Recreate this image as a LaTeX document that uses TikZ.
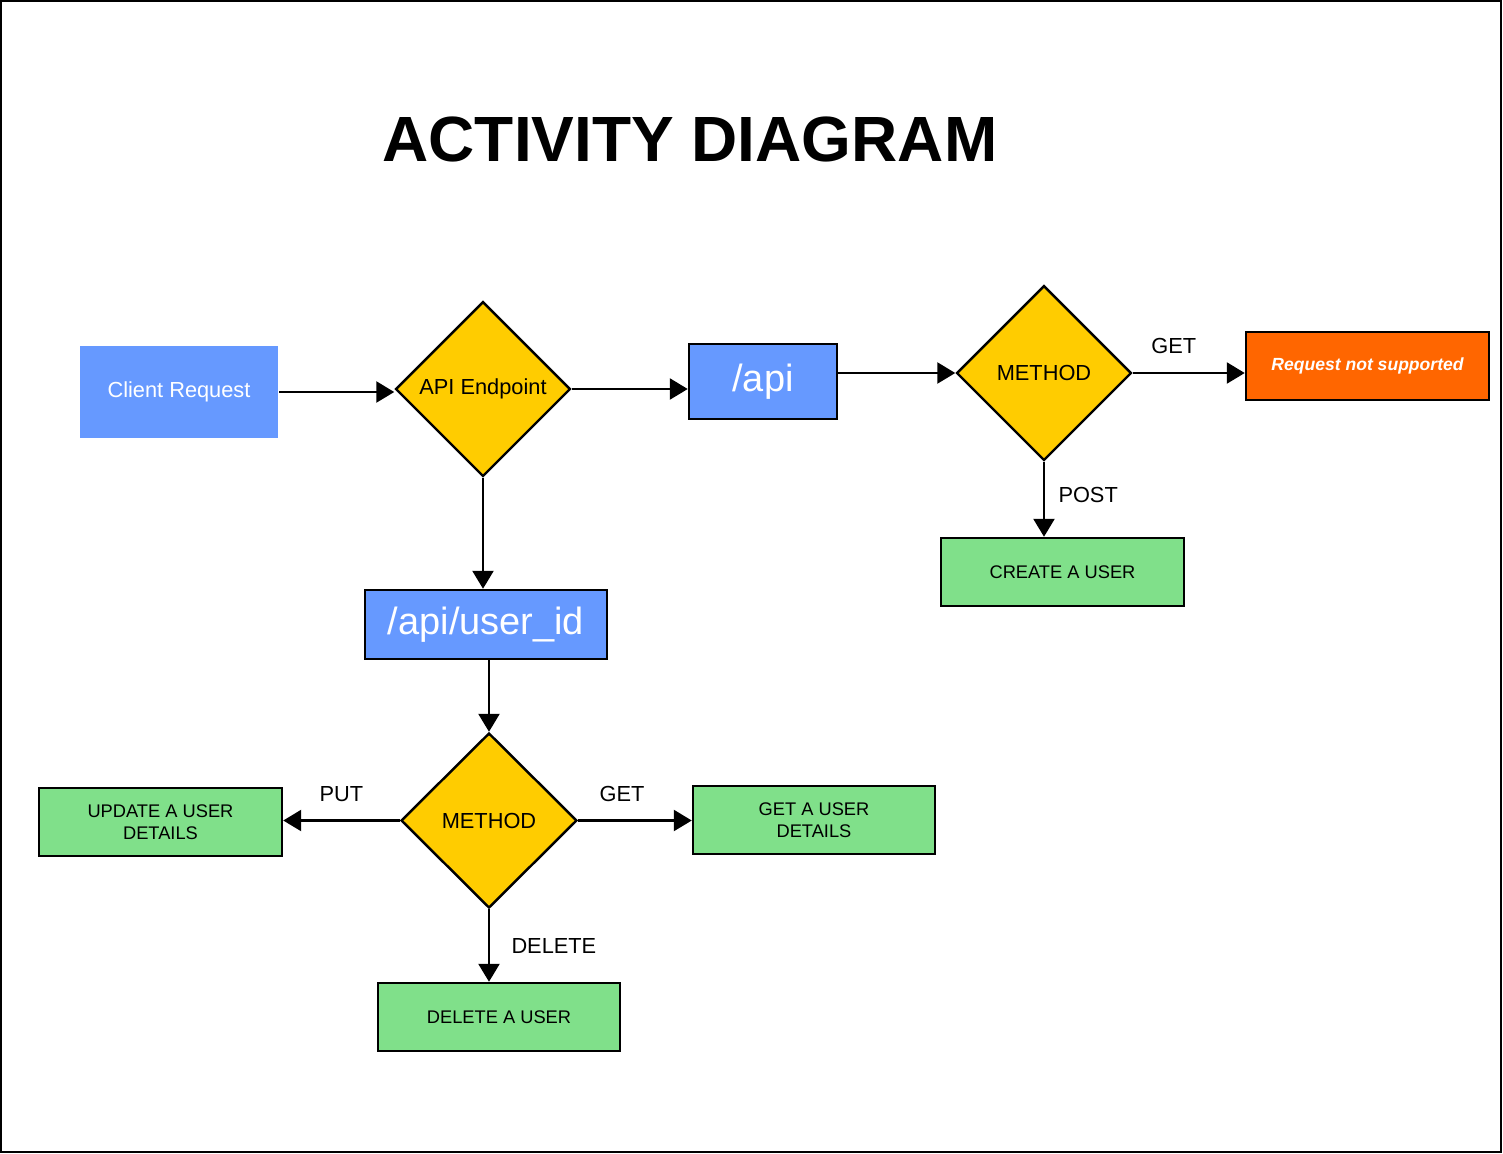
\documentclass[tikz,border=0pt]{standalone}
\usepackage{fontspec}
\setmainfont{Liberation Sans}
\usetikzlibrary{positioning,arrows.meta,calc,shapes.geometric}
\definecolor{figblue}{RGB}{102,153,255}
\definecolor{figyellow}{RGB}{255,204,0}
\definecolor{figorange}{RGB}{255,102,0}
\definecolor{figgreen}{RGB}{128,224,138}
\tikzset{
  fig/.style={font=\fontsize{6.2}{7.4}\selectfont},
  box/.style={draw,line width=0.7pt,minimum height=6.8mm,minimum width=24.3mm,align=center,
              inner sep=1pt,font=\fontsize{5.2}{6.3}\selectfont},
  greenbox/.style={box,fill=figgreen},
  routebox/.style={box,fill=figblue,text=white,font=\fontsize{10.8}{12}\selectfont},
  decision/.style={diamond,draw,line width=0.7pt,fill=figyellow,minimum width=17.5mm,
                   minimum height=17.5mm,inner sep=0pt,font=\fontsize{6.2}{7.4}\selectfont},
  ln/.style={-{Triangle[length=1.8mm,width=2.1mm]},line width=0.7pt},
  lbl/.style={font=\fontsize{6.2}{7.4}\selectfont,inner sep=1.5pt},
}

\begin{document}
\begin{tikzpicture}[fig,
  title/.style={font=\fontsize{18.2}{20}\selectfont\bfseries},
  startbox/.style={box,draw=none,fill=figblue,text=white,minimum width=19.8mm,
                   minimum height=9.2mm,font=\fontsize{6.2}{7.4}\selectfont},
  errbox/.style={box,fill=figorange,text=white,font=\fontsize{5}{6}\selectfont\bfseries\itshape}]

\useasboundingbox (0,0) rectangle (15.03,-11.54);
\draw[line width=0.6pt] (0.01,-0.01) rectangle (15.01,-11.52);
\node[title] (ttl) at (6.9,-1.39) {ACTIVITY DIAGRAM};

% =======================  TOP: request and /api route  =====================
\node[startbox] (client) at (1.79,-3.92) {Client Request};
\node[decision] (endpt) at (4.83,-3.89) {API Endpoint};
\node[routebox,minimum width=14.8mm,minimum height=7.5mm] (apiroute) at (7.63,-3.815) {/api};
\node[decision] (meth1) at (10.44,-3.73) {METHOD};
\node[errbox] (nosup) at (13.675,-3.66) {Request not supported};
\node[greenbox] (create) at (10.625,-5.72) {CREATE A USER};

\draw[ln] (client.east) -- (client.east -| endpt.west);
\draw[ln] (endpt.east) -- (endpt.east -| apiroute.west);
\draw[ln] (apiroute.east |- meth1.west) -- (meth1.west);
\draw[ln] (meth1.east) -- (meth1.east -| nosup.west)
      node[lbl,midway,above=3.5pt,xshift=-1.5mm] {GET};
\draw[ln] (meth1.south) -- (meth1.south |- create.north)
      node[lbl,midway,right=0.8mm,yshift=0.4mm] {POST};

% =======================  BOTTOM: /api/user_id route  ======================
\node[routebox,minimum width=24.2mm,minimum height=6.9mm] (uidroute) at (4.86,-6.245) {/api/user\_id};
\node[decision,minimum width=17.6mm] (meth2) at (4.89,-8.205) {METHOD};
\node[greenbox] (update) at (1.605,-8.22) {UPDATE A USER\\DETAILS};
\node[greenbox,minimum width=24.2mm] (getuser) at (8.14,-8.20) {GET A USER\\DETAILS};
\node[greenbox,minimum width=24.2mm] (deluser) at (4.99,-10.17) {DELETE A USER};

\draw[ln] (endpt.south) -- (endpt.south |- uidroute.north);
\draw[ln] (uidroute.south -| meth2.north) -- (meth2.north);
\draw[ln] (meth2.west) -- (meth2.west -| update.east)
      node[lbl,midway,above=3.5pt] {PUT};
\draw[ln] (meth2.east) -- (meth2.east -| getuser.west)
      node[lbl,midway,above=3.5pt,xshift=-1.3mm] {GET};
\draw[ln] (meth2.south) -- (meth2.south |- deluser.north)
      node[lbl,midway,right=1.6mm] {DELETE};

\end{tikzpicture}
\end{document}
